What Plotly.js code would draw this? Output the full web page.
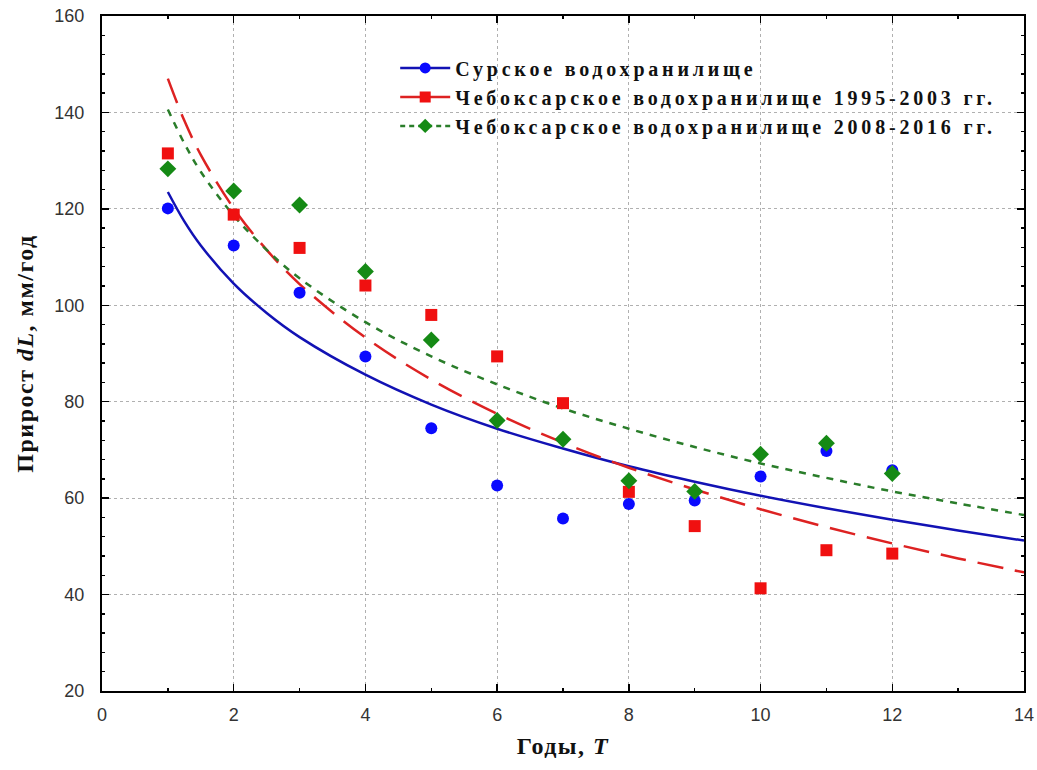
<!DOCTYPE html>
<html>
<head>
<meta charset="utf-8">
<script src="https://cdn.plot.ly/plotly-3.0.1.min.js"></script>
<style>
  html, body { margin: 0; padding: 0; background: #ffffff; }
  #chart { width: 1037px; height: 770px; }
  .legendtext { letter-spacing: 3.8px; }
  .xtitle, .ytitle { letter-spacing: 1.5px; }
</style>
</head>
<body>
<div id="chart"></div>
<script>
// Observation years
const years = [1, 2, 3, 4, 5, 6, 7, 8, 9, 10, 11, 12];

// Measured increments, mm/year
const surskoe    = [120.1, 112.4, 102.6, 89.4, 74.5, 62.6, 55.8, 58.8, 59.5, 64.5, 69.8, 65.8];
const cheb9503   = [131.5, 118.8, 111.9, 104.1, 98.0, 89.4, 79.7, 61.3, 54.2, 41.3, 49.2, 48.5];
const cheb0816   = [128.3, 123.7, 120.8, 107.0, 92.8, 76.1, 72.2, 63.6, 61.4, 69.1, 71.4, 65.1];

// Fitted trend curves
const curveX         = [1, 1.25, 1.5, 2, 2.5, 3, 4, 5, 6, 7, 8, 9, 10, 11, 12, 13, 14];
const curveSurskoe   = [123.5, 117.4, 112.4, 104.5, 98.4, 93.4, 85.6, 79.4, 74.4, 70.3, 66.6, 63.4, 60.5, 57.9, 55.5, 53.3, 51.2];
const curveCheb9503  = [147.0, 138.3, 131.2, 120.1, 111.5, 104.4, 93.3, 84.6, 77.5, 71.5, 66.3, 61.8, 57.7, 54.0, 50.6, 47.5, 44.6];
const curveCheb0816  = [140.6, 133.6, 127.7, 118.6, 111.5, 105.6, 96.5, 89.4, 83.6, 78.6, 74.4, 70.6, 67.2, 64.2, 61.4, 58.9, 56.5];

const seriesNames = [
  'Сурское водохранилище',
  'Чебоксарское водохранилище 1995-2003 гг.',
  'Чебоксарское водохранилище 2008-2016 гг.'
];

const xTicks = [0, 2, 4, 6, 8, 10, 12, 14];
const yTicks = [20, 40, 60, 80, 100, 120, 140, 160];

const blueM = '#0a0aff', blueL = '#1212b4';
const redM = '#f01010', redL = '#dd2222';
const greenM = '#158a15', greenL = '#2a7d2a';

const traces = [
  // curves
  {x: curveX, y: curveSurskoe, mode: 'lines', line: {color: blueL, width: 2.5, shape: 'spline'}, showlegend: false, legendgroup: 'a', hoverinfo: 'skip'},
  {x: curveX, y: curveCheb9503, mode: 'lines', line: {color: redL, width: 2.5, dash: '26px,12px', shape: 'spline'}, showlegend: false, legendgroup: 'b', hoverinfo: 'skip'},
  {x: curveX, y: curveCheb0816, mode: 'lines', line: {color: greenL, width: 2.5, dash: '7px,7px', shape: 'spline'}, showlegend: false, legendgroup: 'c', hoverinfo: 'skip'},
  // points
  {x: years, y: surskoe, mode: 'markers', marker: {symbol: 'circle', size: 12, color: blueM}, showlegend: false, legendgroup: 'a'},
  {x: years, y: cheb9503, mode: 'markers', marker: {symbol: 'square', size: 12, color: redM}, showlegend: false, legendgroup: 'b'},
  {x: years, y: cheb0816, mode: 'markers', marker: {symbol: 'diamond', size: 13, color: greenM}, showlegend: false, legendgroup: 'c'},
  // legend entries
  {x: [null], y: [null], name: seriesNames[0], mode: 'lines+markers', line: {color: blueL, width: 2.5}, marker: {symbol: 'circle', size: 11, color: blueM}, legendgroup: 'a'},
  {x: [null], y: [null], name: seriesNames[1], mode: 'lines+markers', line: {color: redL, width: 2.5}, marker: {symbol: 'square', size: 11, color: redM}, legendgroup: 'b'},
  {x: [null], y: [null], name: seriesNames[2], mode: 'lines+markers', line: {color: greenL, width: 2.5, dash: '5px,4px'}, marker: {symbol: 'diamond', size: 11, color: greenM}, legendgroup: 'c'}
];

const tickFont = {family: '"Liberation Sans", Arial, sans-serif', size: 18, color: '#333333'};
const titleFont = {family: '"Liberation Serif", "Times New Roman", serif', size: 24, color: '#111111', weight: 'bold'};

const layout = {
  width: 1037,
  height: 770,
  paper_bgcolor: '#ffffff',
  plot_bgcolor: '#ffffff',
  margin: {l: 102, r: 13, t: 16, b: 79},
  showlegend: true,
  legend: {
    x: 0.318, y: 0.952, xanchor: 'left', yanchor: 'top',
    bgcolor: 'rgba(0,0,0,0)',
    font: {family: '"Liberation Serif", "Times New Roman", serif', size: 20, color: '#111111', weight: 'bold'},
    itemwidth: 50,
    tracegroupgap: 0
  },
  xaxis: {
    range: [0, 14],
    tickvals: xTicks,
    ticktext: xTicks.map(String),
    ticks: 'inside', ticklen: 7, tickwidth: 1.5, tickcolor: '#000',
    minor: {dtick: 1, ticks: 'inside', ticklen: 3, tickcolor: '#000', showgrid: false},
    showline: true, linecolor: '#000', linewidth: 2, mirror: 'allticks',
    showgrid: true, gridcolor: '#b0b0b0', griddash: 'dot', gridwidth: 1,
    zeroline: false,
    tickfont: tickFont,
    ticklabelstandoff: 6,
    title: {text: 'Годы, <i>T</i>', font: titleFont, standoff: 14}
  },
  yaxis: {
    range: [20, 160],
    tickvals: yTicks,
    ticktext: yTicks.map(String),
    ticks: 'inside', ticklen: 7, tickwidth: 1.5, tickcolor: '#000',
    minor: {dtick: 4, tick0: 20, ticks: 'inside', ticklen: 3, tickcolor: '#000', showgrid: false},
    showline: true, linecolor: '#000', linewidth: 2, mirror: 'allticks',
    showgrid: true, gridcolor: '#b0b0b0', griddash: 'dot', gridwidth: 1,
    zeroline: false,
    tickfont: tickFont,
    ticklabelstandoff: 12,
    title: {text: 'Прирост <i>dL</i>, мм/год', font: titleFont, standoff: 14}
  }
};

Plotly.newPlot('chart', traces, layout, {displayModeBar: false, staticPlot: true});
</script>
</body>
</html>
